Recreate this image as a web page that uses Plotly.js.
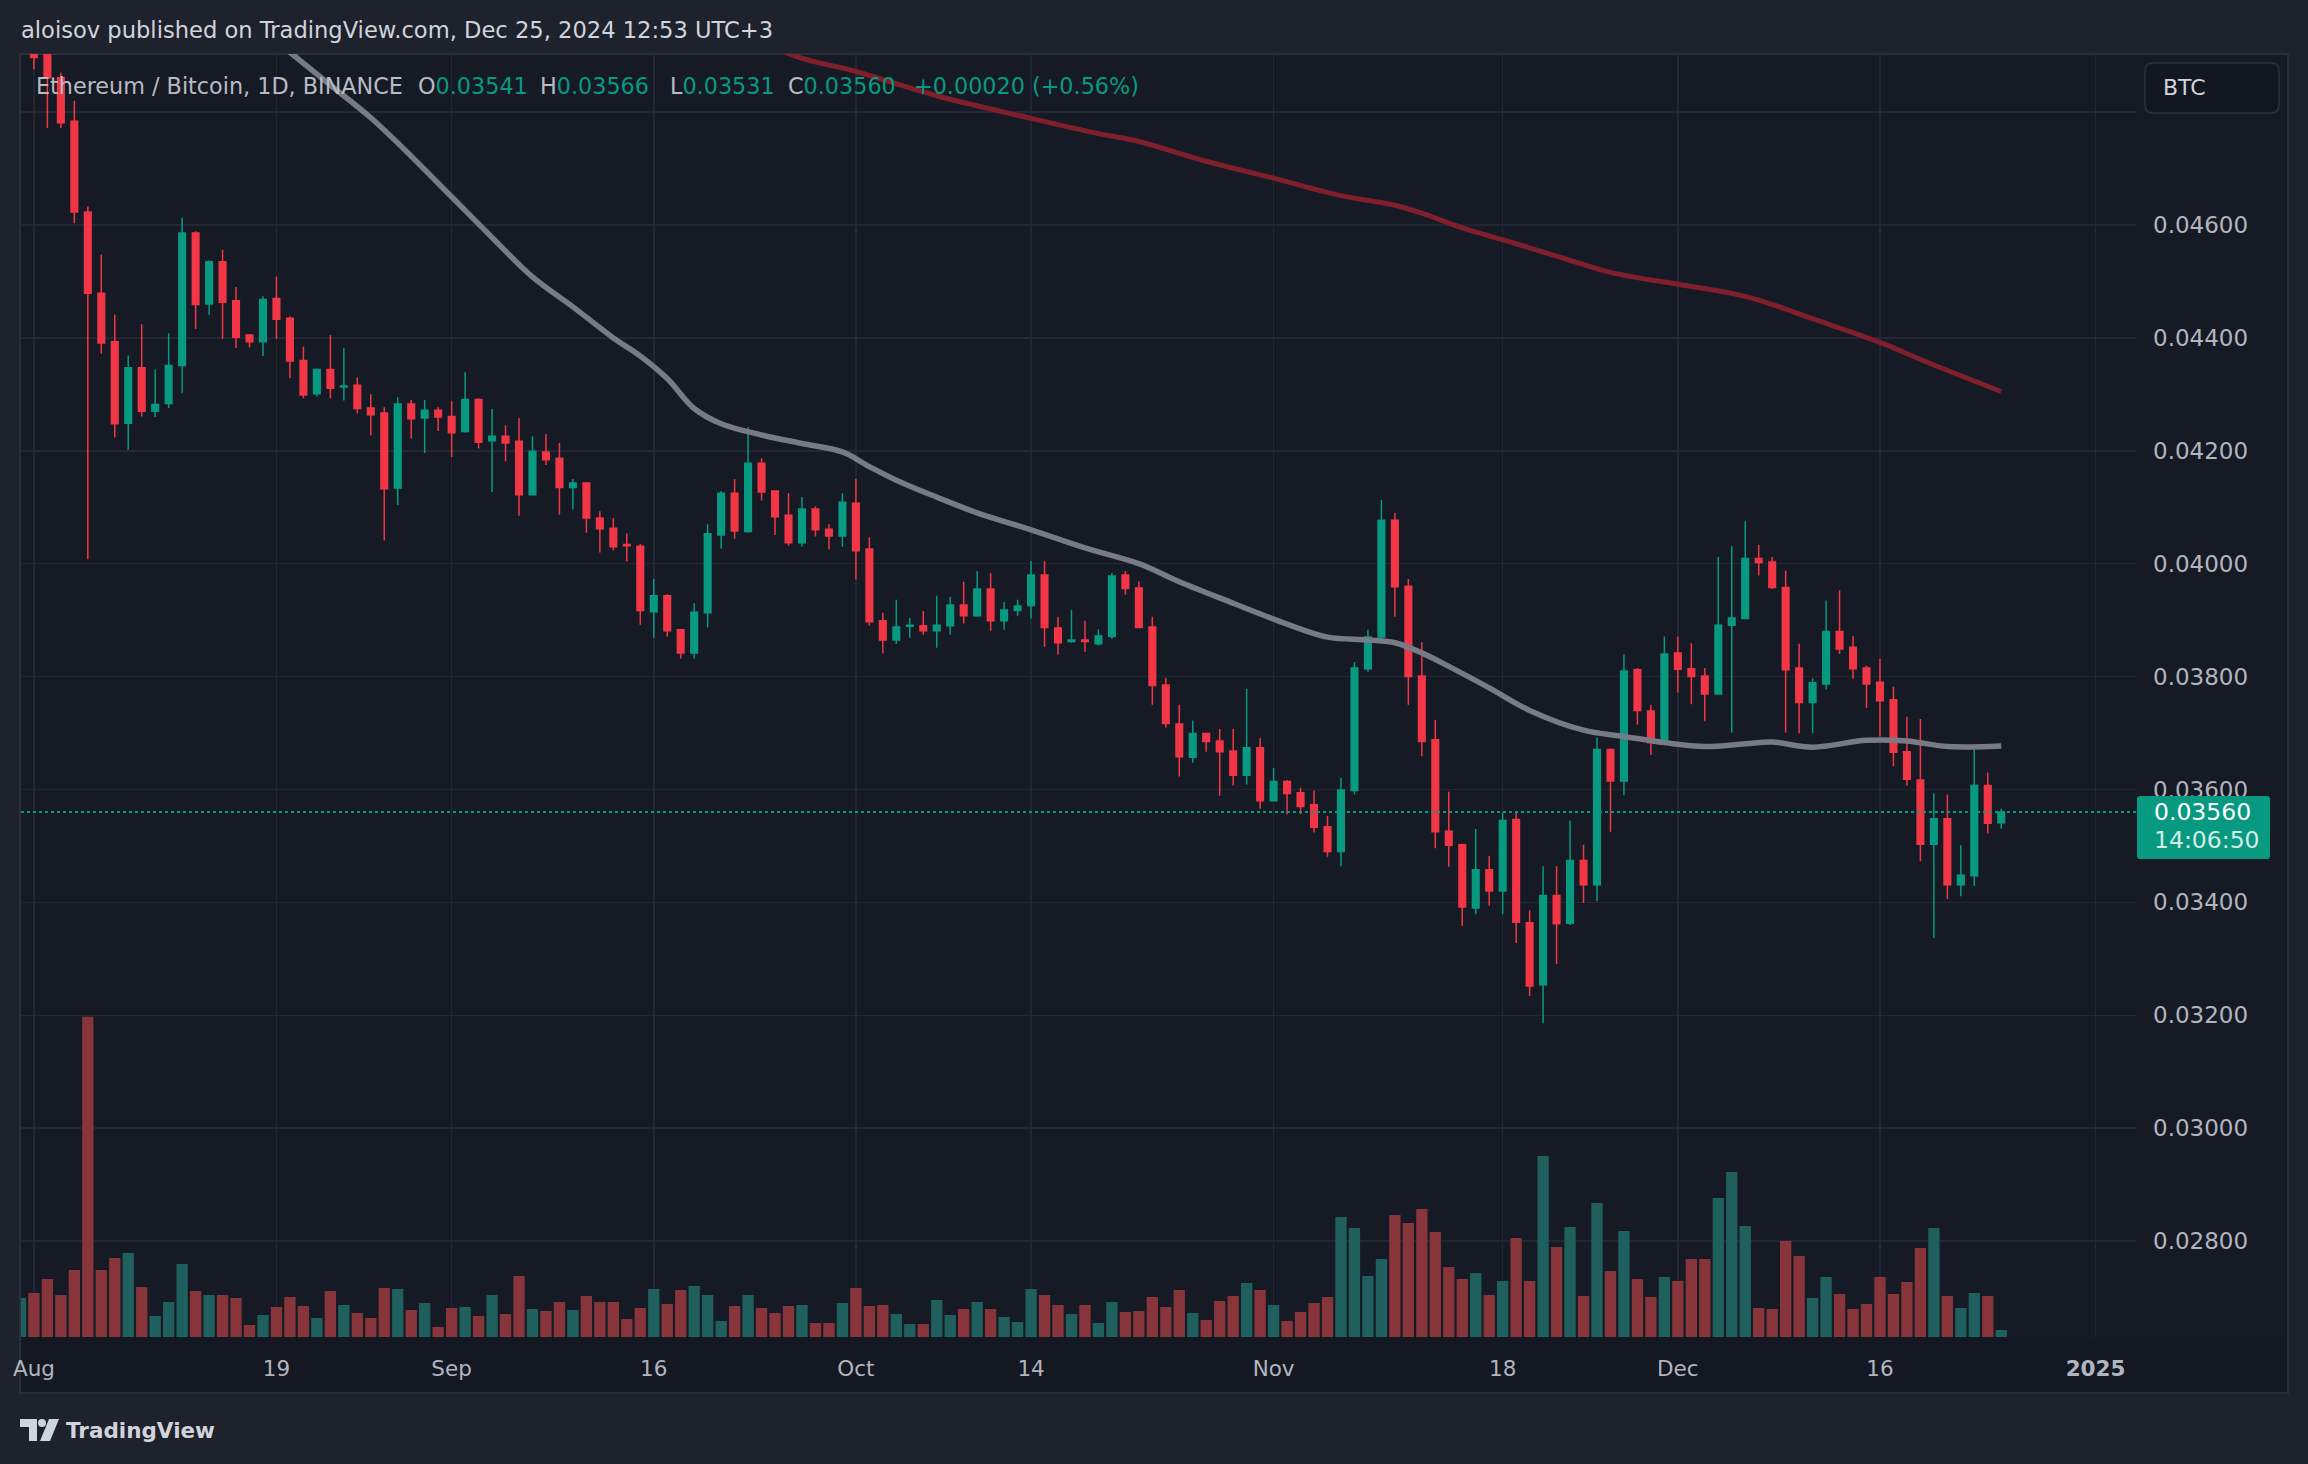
<!DOCTYPE html>
<html>
<head>
<meta charset="utf-8">
<script src="https://cdn.plot.ly/plotly-3.0.1.min.js"></script>
<style>
  html, body { margin: 0; padding: 0; background: #1e222d; }
  #chart { width: 2308px; height: 1464px; }
</style>
</head>
<body>
<div id="chart"></div>
<script>
// ---------- data ----------
const startDate = '2024-07-31';          // first candle, one per day
const open = [
  0.05030,
  0.05060, 0.04905, 0.04861, 0.04784, 0.04623, 0.04479, 0.04393, 0.04249, 0.04347, 0.04270,
  0.04284, 0.04351, 0.04586, 0.04460, 0.04535, 0.04466, 0.04405, 0.04393, 0.04470, 0.04435,
  0.04360, 0.04301, 0.04344, 0.04313, 0.04316, 0.04276, 0.04267, 0.04134, 0.04283, 0.04258, 0.04272,
  0.04261, 0.04234, 0.04291, 0.04218, 0.04226, 0.04217, 0.04122, 0.04198, 0.04187, 0.04135,
  0.04143, 0.04081, 0.04063, 0.04034, 0.04031, 0.03915, 0.03943, 0.03883, 0.03842, 0.03913,
  0.04051, 0.04125, 0.04057, 0.04178, 0.04129, 0.04086, 0.04037, 0.04097, 0.04061, 0.04049,
  0.04107, 0.04026, 0.03899, 0.03865, 0.03889, 0.03890, 0.03881, 0.03890, 0.03927, 0.03908,
  0.03955, 0.03899, 0.03917, 0.03926, 0.03980, 0.03886, 0.03862, 0.03865, 0.03858, 0.03871,
  0.03980, 0.03957, 0.03888, 0.03785, 0.03716, 0.03657, 0.03699, 0.03686, 0.03668, 0.03625, 0.03674,
  0.03580, 0.03614, 0.03594, 0.03573, 0.03534, 0.03490, 0.03598, 0.03814, 0.03870, 0.04077,
  0.03960, 0.03801, 0.03688, 0.03526, 0.03502, 0.03390, 0.03458, 0.03420, 0.03547, 0.03364,
  0.03254, 0.03412, 0.03363, 0.03474, 0.03431, 0.03671, 0.03615, 0.03812, 0.03739, 0.03683,
  0.03842, 0.03814, 0.03801, 0.03769, 0.03891, 0.03903, 0.04009, 0.04003, 0.03958, 0.03815,
  0.03754, 0.03787, 0.03880, 0.03852, 0.03815, 0.03790, 0.03759, 0.03667, 0.03617, 0.03503,
  0.03548, 0.03431, 0.03447, 0.03607, 0.03541
];
const high = [
  0.05100,
  0.05080, 0.04920, 0.04870, 0.04820, 0.04633, 0.04548, 0.04441, 0.04369, 0.04424, 0.04344,
  0.04408, 0.04613, 0.04589, 0.04537, 0.04556, 0.04490, 0.04407, 0.04474, 0.04509, 0.04438,
  0.04385, 0.04346, 0.04405, 0.04382, 0.04330, 0.04300, 0.04277, 0.04295, 0.04290, 0.04290, 0.04277,
  0.04288, 0.04339, 0.04293, 0.04274, 0.04245, 0.04258, 0.04226, 0.04230, 0.04214, 0.04150,
  0.04143, 0.04093, 0.04081, 0.04054, 0.04035, 0.03973, 0.03946, 0.03883, 0.03930, 0.04070,
  0.04129, 0.04150, 0.04242, 0.04187, 0.04130, 0.04125, 0.04118, 0.04102, 0.04070, 0.04125,
  0.04150, 0.04047, 0.03913, 0.03936, 0.03904, 0.03916, 0.03943, 0.03941, 0.03968, 0.03987,
  0.03983, 0.03932, 0.03936, 0.04005, 0.04005, 0.03906, 0.03918, 0.03899, 0.03884, 0.03983,
  0.03987, 0.03969, 0.03906, 0.03798, 0.03750, 0.03722, 0.03700, 0.03707, 0.03707, 0.03778, 0.03691,
  0.03638, 0.03617, 0.03603, 0.03598, 0.03553, 0.03621, 0.03826, 0.03883, 0.04113, 0.04090,
  0.03973, 0.03861, 0.03723, 0.03596, 0.03504, 0.03530, 0.03482, 0.03559, 0.03562, 0.03386,
  0.03464, 0.03464, 0.03545, 0.03502, 0.03692, 0.03672, 0.03839, 0.03815, 0.03750, 0.03871,
  0.03871, 0.03859, 0.03815, 0.04012, 0.04031, 0.04075, 0.04033, 0.04012, 0.03988, 0.03858,
  0.03797, 0.03935, 0.03953, 0.03872, 0.03819, 0.03831, 0.03782, 0.03729, 0.03725, 0.03593,
  0.03591, 0.03501, 0.03671, 0.03630, 0.03566
];
const low = [
  0.05000,
  0.04876, 0.04772, 0.04772, 0.04603, 0.04008, 0.04372, 0.04224, 0.04202, 0.04261, 0.04260,
  0.04276, 0.04302, 0.04416, 0.04441, 0.04398, 0.04382, 0.04383, 0.04368, 0.04398, 0.04329,
  0.04293, 0.04296, 0.04293, 0.04289, 0.04266, 0.04227, 0.04041, 0.04104, 0.04222, 0.04196, 0.04235,
  0.04189, 0.04232, 0.04204, 0.04127, 0.04181, 0.04085, 0.04122, 0.04175, 0.04087, 0.04096,
  0.04055, 0.04020, 0.04024, 0.04004, 0.03892, 0.03869, 0.03871, 0.03832, 0.03832, 0.03887,
  0.04027, 0.04044, 0.04055, 0.04112, 0.04051, 0.04032, 0.04030, 0.04048, 0.04025, 0.04030,
  0.03972, 0.03890, 0.03841, 0.03858, 0.03869, 0.03874, 0.03851, 0.03874, 0.03894, 0.03906,
  0.03881, 0.03883, 0.03908, 0.03903, 0.03853, 0.03839, 0.03860, 0.03844, 0.03855, 0.03867,
  0.03945, 0.03887, 0.03750, 0.03710, 0.03623, 0.03648, 0.03667, 0.03589, 0.03607, 0.03609, 0.03566,
  0.03580, 0.03556, 0.03556, 0.03524, 0.03481, 0.03464, 0.03591, 0.03809, 0.03865, 0.03906,
  0.03750, 0.03659, 0.03496, 0.03463, 0.03358, 0.03379, 0.03394, 0.03379, 0.03328, 0.03234,
  0.03186, 0.03291, 0.03360, 0.03399, 0.03402, 0.03525, 0.03590, 0.03715, 0.03661, 0.03683,
  0.03772, 0.03751, 0.03721, 0.03769, 0.03701, 0.03903, 0.03979, 0.03955, 0.03701, 0.03699,
  0.03699, 0.03777, 0.03840, 0.03796, 0.03745, 0.03694, 0.03641, 0.03607, 0.03473, 0.03337,
  0.03406, 0.03411, 0.03429, 0.03522, 0.03531
];
const close = [
  0.05060,
  0.04897, 0.04861, 0.04781, 0.04623, 0.04479, 0.04391, 0.04248, 0.04347, 0.04270, 0.04282,
  0.04351, 0.04586, 0.04459, 0.04535, 0.04463, 0.04401, 0.04393, 0.04468, 0.04433, 0.04359,
  0.04299, 0.04344, 0.04311, 0.04315, 0.04275, 0.04264, 0.04133, 0.04283, 0.04257, 0.04272, 0.04260,
  0.04232, 0.04291, 0.04215, 0.04226, 0.04214, 0.04122, 0.04199, 0.04184, 0.04135, 0.04143,
  0.04081, 0.04062, 0.04030, 0.04032, 0.03917, 0.03943, 0.03881, 0.03842, 0.03914, 0.04053,
  0.04125, 0.04058, 0.04178, 0.04127, 0.04083, 0.04037, 0.04097, 0.04060, 0.04049, 0.04109,
  0.04023, 0.03897, 0.03865, 0.03888, 0.03891, 0.03881, 0.03891, 0.03927, 0.03908, 0.03955,
  0.03899, 0.03918, 0.03925, 0.03980, 0.03887, 0.03860, 0.03865, 0.03862, 0.03872, 0.03978,
  0.03956, 0.03887, 0.03784, 0.03717, 0.03658, 0.03699, 0.03685, 0.03667, 0.03625, 0.03674, 0.03580,
  0.03614, 0.03593, 0.03570, 0.03533, 0.03490, 0.03599, 0.03815, 0.03870, 0.04077, 0.03959,
  0.03800, 0.03685, 0.03525, 0.03501, 0.03392, 0.03458, 0.03420, 0.03545, 0.03365, 0.03252,
  0.03412, 0.03362, 0.03474, 0.03431, 0.03671, 0.03615, 0.03810, 0.03740, 0.03683, 0.03840,
  0.03813, 0.03800, 0.03769, 0.03891, 0.03904, 0.04009, 0.04002, 0.03958, 0.03812, 0.03754,
  0.03789, 0.03880, 0.03849, 0.03814, 0.03787, 0.03757, 0.03666, 0.03618, 0.03503, 0.03548,
  0.03431, 0.03448, 0.03607, 0.03540, 0.03560
];
const volume = [
  11.7,
  13.2, 17.4, 12.6, 20.1, 96.1, 20.1, 23.7, 25.2, 15.0, 6.3,
  10.5, 21.9, 13.8, 12.6, 12.6, 11.7, 3.6, 6.6, 9.0, 12.0,
  9.3, 5.7, 13.8, 9.6, 7.2, 5.7, 14.7, 14.4, 8.1, 10.2, 3.0,
  8.7, 9.0, 6.3, 12.6, 6.9, 18.3, 8.4, 7.8, 10.5, 8.1,
  12.3, 10.5, 10.5, 5.4, 8.7, 14.4, 9.9, 14.1, 15.3, 12.6,
  4.8, 9.3, 12.6, 8.7, 7.2, 9.3, 9.6, 4.2, 4.2, 10.2,
  14.7, 9.3, 9.6, 6.9, 3.9, 3.9, 11.1, 6.6, 8.4, 10.5,
  8.4, 6.0, 4.5, 14.4, 12.6, 9.6, 6.9, 9.6, 4.2, 10.5,
  7.5, 7.8, 12.0, 9.0, 14.1, 7.2, 5.1, 10.8, 12.3, 16.2, 14.1,
  9.6, 4.8, 7.5, 10.2, 12.0, 36.0, 32.7, 18.3, 23.4, 36.6,
  34.2, 38.4, 31.5, 21.0, 17.4, 19.2, 12.6, 16.8, 29.7, 16.8,
  54.3, 27.0, 33.0, 12.3, 40.2, 19.8, 31.8, 17.4, 12.0, 18.0,
  16.8, 23.4, 23.4, 41.7, 49.5, 33.3, 8.7, 8.4, 28.8, 24.3,
  11.7, 18.0, 12.9, 8.4, 9.9, 18.0, 12.9, 16.5, 26.7, 32.7,
  12.3, 8.7, 13.2, 12.3, 2.1
];

// grey moving average (read at these dates)
const maGreyDates = ['2024-08-18','2024-08-20','2024-08-23','2024-08-26','2024-08-29','2024-09-01','2024-09-04',
  '2024-09-07','2024-09-10','2024-09-13','2024-09-15','2024-09-17','2024-09-19','2024-09-21','2024-09-24',
  '2024-09-27','2024-09-30','2024-10-02','2024-10-04','2024-10-07','2024-10-10','2024-10-14','2024-10-18',
  '2024-10-22','2024-10-25','2024-10-29','2024-11-02','2024-11-05','2024-11-08','2024-11-10','2024-11-12',
  '2024-11-14','2024-11-17','2024-11-20','2024-11-24','2024-11-27','2024-11-30','2024-12-03','2024-12-06',
  '2024-12-08','2024-12-11','2024-12-15','2024-12-18','2024-12-21','2024-12-25'];
const maGreyValues = [0.04944,0.04906,0.04848,0.04790,0.04722,0.04650,0.04578,
  0.04508,0.04455,0.04400,0.04368,0.04328,0.04275,0.04248,0.04228,
  0.04213,0.04198,0.04172,0.04148,0.04118,0.04090,0.04060,0.04028,
  0.04000,0.03968,0.03930,0.03893,0.03870,0.03865,0.03860,0.03842,
  0.03818,0.03780,0.03740,0.03705,0.03694,0.03683,0.03676,0.03681,
  0.03684,0.03675,0.03687,0.03686,0.03676,0.03677];

// dark red moving average
const maRedDates = ['2024-09-23','2024-09-26','2024-10-01','2024-10-07','2024-10-14','2024-10-19','2024-10-22',
  '2024-10-27','2024-11-01','2024-11-06','2024-11-10','2024-11-12','2024-11-15','2024-11-18','2024-11-22',
  '2024-11-26','2024-12-01','2024-12-05','2024-12-07','2024-12-11','2024-12-16','2024-12-20','2024-12-25'];
const maRedValues = [0.04950,0.04904,0.04872,0.04829,0.04789,0.04762,0.04748,
  0.04713,0.04683,0.04652,0.04635,0.04621,0.04595,0.04574,0.04545,
  0.04516,0.04495,0.04479,0.04467,0.04434,0.04392,0.04352,0.04305];

// axis ticks
const timeTickDates = ['2024-08-01','2024-08-19','2024-09-01','2024-09-16','2024-10-01','2024-10-14',
  '2024-11-01','2024-11-18','2024-12-01','2024-12-16','2025-01-01'];
const timeTickLabels = ['Aug','19','Sep','16','Oct','14','Nov','18','Dec','16','<b>2025</b>'];
const priceTicks = [0.028,0.030,0.032,0.034,0.036,0.038,0.040,0.042,0.044,0.046,0.048];

// ---------- derived ----------
const dates = [];
{
  const d0 = new Date(startDate + 'T00:00:00Z');
  for (let i = 0; i < close.length; i++) {
    const d = new Date(d0.getTime() + i * 86400000);
    dates.push(d.toISOString().slice(0, 10));
  }
}
const UP = '#089981', DOWN = '#F23645';
const volColors = close.map((c, i) => c >= open[i] ? '#1f5f5e' : '#87343a');
const n = close.length - 1;
const lastClose = close[n];
const chg = close[n] - close[n - 1];
const chgPct = chg / close[n - 1] * 100;

// ---------- geometry helpers (pixel -> paper) ----------
const W = 2308, H = 1464, PL = 21, PR = 2136, PT = 54, PB = 1337;
const px = x => (x - PL) / (PR - PL);
const py = y => (PB - y) / (PB - PT);
const priceRange = [0.02630, 0.04903];
const ppx = (priceRange[1] - priceRange[0]) / (PB - PT);   // price per pixel
const lastY = PB - (lastClose - priceRange[0]) / ppx;       // pixel row of last close

const FONT = 'DejaVu Sans';
const TXT = '#b2b5be';

const traces = [
  {
    type: 'bar', x: dates, y: volume, xaxis: 'x', yaxis: 'y',
    marker: { color: volColors, line: { width: 0 } },
    hoverinfo: 'skip'
  },
  {
    type: 'scatter', mode: 'lines', x: maGreyDates, y: maGreyValues, xaxis: 'x', yaxis: 'y2',
    line: { color: '#787b86', width: 5.5, shape: 'spline', smoothing: 1 }, hoverinfo: 'skip'
  },
  {
    type: 'scatter', mode: 'lines', x: maRedDates, y: maRedValues, xaxis: 'x', yaxis: 'y2',
    line: { color: '#7e1f2b', width: 5, shape: 'spline', smoothing: 1 }, hoverinfo: 'skip'
  },
  {
    type: 'candlestick', x: dates, open: open, high: high, low: low, close: close,
    xaxis: 'x', yaxis: 'y2',
    increasing: { line: { color: UP, width: 1.5 }, fillcolor: UP },
    decreasing: { line: { color: DOWN, width: 1.5 }, fillcolor: DOWN },
    whiskerwidth: 0, hoverinfo: 'skip'
  }
];

function roundRect(x0, y0, x1, y1, r) {
  const X = v => px(v), Y = v => py(v);
  return `M ${X(x0 + r)},${Y(y0)} L ${X(x1 - r)},${Y(y0)} Q ${X(x1)},${Y(y0)} ${X(x1)},${Y(y0 + r)} ` +
         `L ${X(x1)},${Y(y1 - r)} Q ${X(x1)},${Y(y1)} ${X(x1 - r)},${Y(y1)} L ${X(x0 + r)},${Y(y1)} ` +
         `Q ${X(x0)},${Y(y1)} ${X(x0)},${Y(y1 - r)} L ${X(x0)},${Y(y0 + r)} Q ${X(x0)},${Y(y0)} ${X(x0 + r)},${Y(y0)} Z`;
}

const shapes = [
  { type: 'rect', xref: 'paper', yref: 'paper', x0: px(20), x1: px(2288), y0: py(1393), y1: py(54),
    fillcolor: '#161a25', line: { width: 0 }, layer: 'below' },
  { type: 'rect', xref: 'paper', yref: 'paper', x0: px(20), x1: px(2288), y0: py(1337), y1: py(1393),
    fillcolor: '#141823', line: { width: 0 }, layer: 'below' },
  { type: 'rect', xref: 'paper', yref: 'paper', x0: px(20), x1: px(2288), y0: py(1393), y1: py(54),
    fillcolor: 'rgba(0,0,0,0)', line: { color: '#2a2e39', width: 2 }, layer: 'below' },
  { type: 'line', xref: 'paper', yref: 'y2', x0: 0, x1: 1, y0: lastClose, y1: lastClose,
    line: { color: UP, width: 2, dash: 'dot' }, layer: 'above' },
  { type: 'path', xref: 'paper', yref: 'paper', path: roundRect(2137, lastY - 16, 2270, lastY + 47, 3),
    fillcolor: UP, line: { width: 0 }, layer: 'above' },
  { type: 'path', xref: 'paper', yref: 'paper', path: roundRect(2145, 63, 2279, 113, 8),
    fillcolor: '#131722', line: { color: '#2e3240', width: 1.5 }, layer: 'above' },
  { type: 'path', xref: 'paper', yref: 'paper',
    path: `M ${px(20)},${py(1419)} L ${px(37)},${py(1419)} L ${px(37)},${py(1441)} L ${px(29)},${py(1441)} L ${px(29)},${py(1427)} L ${px(20)},${py(1427)} Z`,
    fillcolor: '#d1d4dc', line: { width: 0 }, layer: 'above' },
  { type: 'circle', xref: 'paper', yref: 'paper', x0: px(38), x1: px(46), y0: py(1427), y1: py(1419),
    fillcolor: '#d1d4dc', line: { width: 0 }, layer: 'above' },
  { type: 'path', xref: 'paper', yref: 'paper',
    path: `M ${px(49)},${py(1419)} L ${px(59)},${py(1419)} L ${px(50)},${py(1441)} L ${px(40)},${py(1441)} Z`,
    fillcolor: '#d1d4dc', line: { width: 0 }, layer: 'above' }
];

const legY = py(86);
const LEG = 22.3;
const g = s => `<span style="color:${UP}">${s}</span>`;
function legAnn(text, x) {
  return { text: text, xref: 'paper', yref: 'paper', x: px(x), y: legY, xanchor: 'left', yanchor: 'middle',
           showarrow: false, font: { family: FONT, size: LEG, color: '#b8bbc4' } };
}
const annotations = [
  { text: 'aloisov published on TradingView.com, Dec 25, 2024 12:53 UTC+3', xref: 'paper', yref: 'paper',
    x: px(19), y: py(30), xanchor: 'left', yanchor: 'middle', showarrow: false,
    font: { family: FONT, size: 22.6, color: '#d1d4dc' } },
  legAnn('Ethereum / Bitcoin, 1D, BINANCE', 34),
  legAnn('O' + g(open[n].toFixed(5)), 416),
  legAnn('H' + g(high[n].toFixed(5)), 538),
  legAnn('L' + g(low[n].toFixed(5)), 668),
  legAnn('C' + g(close[n].toFixed(5)), 786),
  legAnn(g((chg >= 0 ? '+' : '') + chg.toFixed(5) + ' (' + (chgPct >= 0 ? '+' : '') + chgPct.toFixed(2) + '%)'), 912),
  { text: 'BTC', xref: 'paper', yref: 'paper', x: px(2161), y: py(88), xanchor: 'left', yanchor: 'middle',
    showarrow: false, font: { family: FONT, size: 22, color: '#d1d4dc' } },
  { text: lastClose.toFixed(5), xref: 'paper', yref: 'y2', x: px(2152), y: lastClose,
    xanchor: 'left', yanchor: 'middle', showarrow: false, font: { family: FONT, size: 23.5, color: '#ffffff' } },
  { text: '14:06:50', xref: 'paper', yref: 'y2', x: px(2152), y: lastClose, yshift: -28,
    xanchor: 'left', yanchor: 'middle', showarrow: false, font: { family: FONT, size: 23.5, color: '#d3ece7' } },
  { text: '<b>TradingView</b>', xref: 'paper', yref: 'paper', x: px(64), y: py(1430),
    xanchor: 'left', yanchor: 'middle', showarrow: false, font: { family: FONT, size: 21.5, color: '#d1d4dc' } }
];

const layout = {
  width: W, height: H,
  margin: { l: PL, r: W - PR, t: PT, b: H - PB, pad: 0 },
  paper_bgcolor: '#1e222d',
  plot_bgcolor: '#161a25',
  showlegend: false,
  hovermode: false,
  dragmode: false,
  bargap: 0.16,
  xaxis: {
    type: 'date',
    range: ['2024-07-31 01:00', '2025-01-04 00:00'],
    tickvals: timeTickDates, ticktext: timeTickLabels,
    showgrid: true, gridcolor: '#232733', gridwidth: 1.5,
    zeroline: false, showline: false, ticks: '',
    tickfont: { family: FONT, size: 21.5, color: TXT },
    ticklabelstandoff: 16,
    rangeslider: { visible: false },
    fixedrange: true
  },
  yaxis: {
    range: [0, 385], visible: false, showgrid: false, zeroline: false, fixedrange: true
  },
  yaxis2: {
    overlaying: 'y', side: 'right',
    range: priceRange,
    tickvals: priceTicks,
    ticktext: priceTicks.map(v => v === 0.048 ? '' : v.toFixed(5)),
    showgrid: true, gridcolor: '#232733', gridwidth: 1.5,
    zeroline: false, showline: false, ticks: '',
    tickfont: { family: FONT, size: 23, color: TXT },
    ticklabelstandoff: 16,
    fixedrange: true
  },
  shapes: shapes,
  annotations: annotations
};

Plotly.newPlot('chart', traces, layout, { staticPlot: true, displayModeBar: false });
</script>
</body>
</html>
